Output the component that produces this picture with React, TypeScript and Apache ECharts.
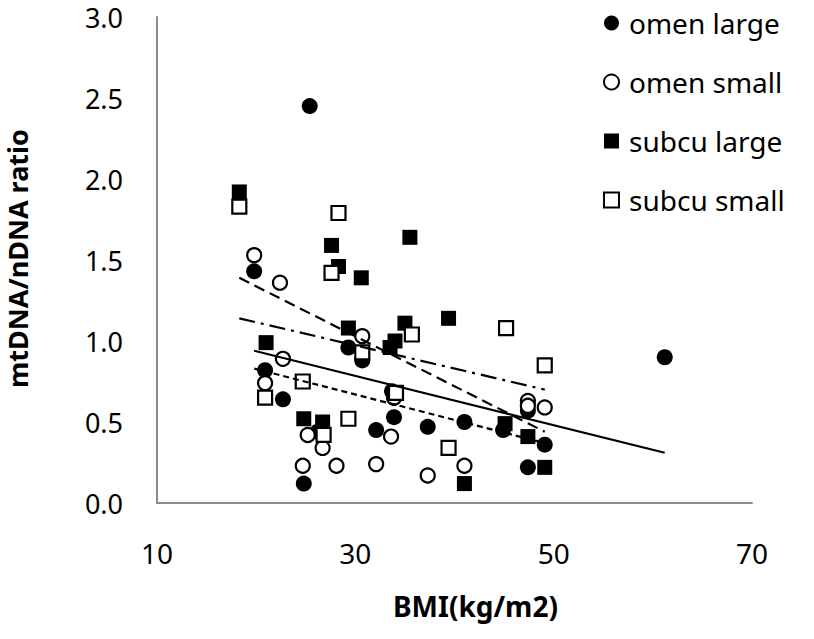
import React, { useEffect, useRef } from "react";
import * as echarts from "echarts";

const seriesNames = ["omen large", "omen small", "subcu large", "subcu small"];

const omenLargeBMI = [19.8, 25.4, 20.9, 22.7, 24.8, 26.2, 29.3, 30.7, 33.7, 33.9, 32.1, 37.3, 41.0, 44.9, 47.4, 49.1, 47.4, 61.2];
const omenLargeRatio = [1.43, 2.45, 0.82, 0.64, 0.12, 0.44, 0.96, 0.88, 0.69, 0.53, 0.45, 0.47, 0.50, 0.45, 0.57, 0.36, 0.22, 0.90];

const omenSmallBMI = [19.8, 22.4, 22.7, 20.9, 24.7, 28.1, 25.2, 26.7, 30.7, 32.1, 33.6, 33.9, 37.3, 41.0, 47.4, 47.4, 49.1];
const omenSmallRatio = [1.53, 1.36, 0.89, 0.74, 0.23, 0.23, 0.42, 0.34, 1.03, 0.24, 0.41, 0.65, 0.17, 0.23, 0.63, 0.60, 0.59];

const subcuLargeBMI = [18.3, 27.6, 28.3, 30.6, 35.5, 29.3, 21.0, 35.0, 34.0, 33.5, 39.4, 24.8, 26.7, 45.1, 47.4, 49.1, 41.0];
const subcuLargeRatio = [1.92, 1.59, 1.46, 1.39, 1.64, 1.08, 0.99, 1.11, 1.00, 0.96, 1.14, 0.52, 0.50, 0.49, 0.41, 0.22, 0.12];

const subcuSmallBMI = [18.3, 28.3, 27.6, 20.9, 24.7, 29.3, 30.7, 26.8, 35.7, 34.1, 45.2, 49.1, 39.4];
const subcuSmallRatio = [1.83, 1.79, 1.42, 0.65, 0.75, 0.52, 0.93, 0.42, 1.04, 0.68, 1.08, 0.85, 0.34];

// Trendline endpoints: [x1, y1, x2, y2]
const trendOmenLarge = [19.8, 0.94, 61.2, 0.31];
const trendOmenSmall = [19.8, 0.83, 49.1, 0.37];
const trendSubcuLarge = [18.3, 1.39, 49.1, 0.44];
const trendSubcuSmall = [18.3, 1.14, 49.1, 0.70];

const xTicks = [10, 30, 50, 70];
const yTicks = [0, 0.5, 1.0, 1.5, 2.0, 2.5, 3.0];

const FONT = "Noto Sans";

function pairs(xs: number[], ys: number[]) {
  return xs.map((x, i) => [x, ys[i]]);
}

function trend(t: number[]) {
  return [
    [t[0], t[1]],
    [t[2], t[3]],
  ];
}

export default function App() {
  const ref = useRef<HTMLDivElement>(null);
  useEffect(() => {
    if (!ref.current) return;
    const chart = echarts.init(ref.current, undefined, { renderer: "svg" });
    const filled = { color: "#000", borderColor: "#000", borderWidth: 0, opacity: 1 };
    const open = { color: "#fff", borderColor: "#000", borderWidth: 2.2, opacity: 1 };
    const lineBase = { color: "#000", width: 2.2, opacity: 1 };
    const option: any = {
      animation: false,
      backgroundColor: "#fff",
      textStyle: { fontFamily: FONT },
      grid: { left: 157, right: 62, top: 17, bottom: 136, containLabel: false },
      legend: {
        data: seriesNames,
        orient: "vertical",
        left: 598,
        top: 3,
        itemWidth: 15,
        itemHeight: 15,
        itemGap: 29,
        textStyle: {
          fontFamily: FONT,
          fontSize: 28,
          color: "#000",
          lineHeight: 30,
          padding: [0, 0, 0, 5],
        },
      },
      xAxis: {
        type: "value",
        min: xTicks[0],
        max: xTicks[xTicks.length - 1],
        interval: 20,
        axisLine: { show: true, onZero: false, lineStyle: { color: "#8c8c8c", width: 2 } },
        axisTick: { show: false },
        splitLine: { show: false },
        axisLabel: { fontFamily: FONT, fontSize: 28, color: "#000", margin: 36 },
      },
      yAxis: {
        type: "value",
        min: yTicks[0],
        max: yTicks[yTicks.length - 1],
        interval: 0.5,
        axisLine: { show: true, onZero: false, lineStyle: { color: "#8c8c8c", width: 2 } },
        axisTick: { show: false },
        splitLine: { show: false },
        axisLabel: {
          fontFamily: FONT,
          fontSize: 27,
          lineHeight: 24,
          color: "#000",
          margin: 34,
          formatter: (v: number) => v.toFixed(1),
        },
      },
      graphic: [
        {
          type: "text",
          left: 393,
          top: 592,
          style: { text: "BMI(kg/m2)", font: `bold 28px "${FONT}"`, fill: "#000" },
        },
        {
          type: "text",
          x: 4,
          y: 388,
          rotation: Math.PI / 2,
          style: {
            text: "mtDNA/nDNA ratio",
            font: `bold 27px "${FONT}"`,
            fill: "#000",
            align: "left",
            verticalAlign: "top",
          },
        },
      ],
      series: [
        {
          name: seriesNames[0],
          type: "scatter",
          symbol: "circle",
          symbolSize: 16,
          itemStyle: filled,
          data: pairs(omenLargeBMI, omenLargeRatio),
        },
        {
          name: seriesNames[1],
          type: "scatter",
          symbol: "circle",
          symbolSize: 14,
          itemStyle: open,
          data: pairs(omenSmallBMI, omenSmallRatio),
        },
        {
          name: seriesNames[2],
          type: "scatter",
          symbol: "rect",
          symbolSize: 15,
          itemStyle: filled,
          data: pairs(subcuLargeBMI, subcuLargeRatio),
        },
        {
          name: seriesNames[3],
          type: "scatter",
          symbol: "rect",
          symbolSize: 14,
          itemStyle: open,
          data: pairs(subcuSmallBMI, subcuSmallRatio),
        },
        {
          name: "trend omen large",
          type: "line",
          symbol: "none",
          lineStyle: { ...lineBase, type: "solid" },
          data: trend(trendOmenLarge),
          z: 3,
        },
        {
          name: "trend omen small",
          type: "line",
          symbol: "none",
          lineStyle: { ...lineBase, type: [6, 4] },
          data: trend(trendOmenSmall),
          z: 3,
        },
        {
          name: "trend subcu large",
          type: "line",
          symbol: "none",
          lineStyle: { ...lineBase, type: [11, 6] },
          data: trend(trendSubcuLarge),
          z: 3,
        },
        {
          name: "trend subcu small",
          type: "line",
          symbol: "none",
          lineStyle: { ...lineBase, type: [16, 6, 3, 6] },
          data: trend(trendSubcuSmall),
          z: 3,
        },
      ],
    };
    chart.setOption(option);
    return () => chart.dispose();
  }, []);
  return <div ref={ref} style={{ width: 814, height: 639, position: "absolute", left: 0, top: 0 }} />;
}
